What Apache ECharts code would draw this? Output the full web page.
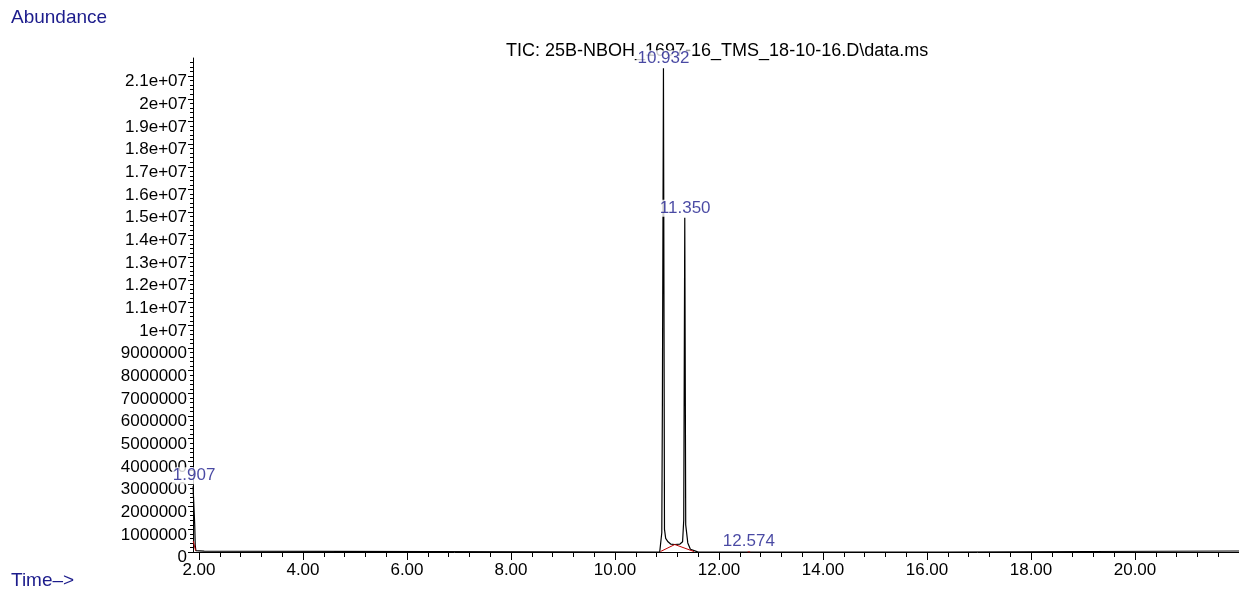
<!DOCTYPE html>
<html>
<head>
<meta charset="utf-8">
<title>TIC chromatogram</title>
<script src="https://cdn.jsdelivr.net/npm/echarts@6/dist/echarts.min.js"></script>
<style>
  html, body { margin: 0; padding: 0; background: #fff; }
  #main { width: 1239px; height: 593px; }
</style>
</head>
<body>
<div id="main"></div>
<script>
'use strict';
// retention time (min) and abundance of the TIC trace
var traceTime = [
  1.886, 1.895, 1.907, 1.918, 1.928, 1.940, 2.100, 2.130,
  10.860, 10.875, 10.900, 10.912, 10.932, 10.952, 10.975, 11.020, 11.070, 11.150, 11.250, 11.300,
  11.322, 11.342, 11.360, 11.400, 11.450, 11.550, 11.600,
  12.550, 12.574, 12.600,
  16.300, 16.320, 22.000
];
var traceAbund = [
  2900000, 2950000, 2950000, 1200000, 300000, 60000, 40000, 0,
  0, 50000, 850000, 6800000, 21350000, 1000000, 600000, 450000, 350000, 330000, 350000, 450000,
  1400000, 14750000, 1200000, 400000, 120000, 40000, 0,
  0, 40000, 0,
  0, 45000, 45000
];
// integration baselines (red), null breaks the segments
var baseTime  = [1.890, 1.935, null, 10.875, 11.150, 11.520, null, 12.550, 12.600];
var baseAbund = [480000, 60000, null, 20000, 330000, 20000, null, 0, 0];
// labelled peaks
var peakTime  = [1.907, 10.932, 11.350, 12.574];
var peakAbund = [2950000, 21350000, 14750000, 40000];
var peakText  = ['1.907', '10.932', '11.350', '12.574'];
// axis ticks
var xMajor = [2, 4, 6, 8, 10, 12, 14, 16, 18, 20];
var yMajor = [];
for (var i = 0; i <= 21; i++) yMajor.push(i * 1000000);
var xMinor = [];
for (var j = 0; j < xMajor.length; j++) {
  for (var k = 1; k < 5; k++) xMinor.push(xMajor[j] + k * 0.4);
}

var font = '"Liberation Sans", Arial, sans-serif';
var blue = '#1c1c8c';

function pairs(xs, ys) {
  return xs.map(function (x, n) { return x === null ? null : [x, ys[n]]; });
}

var chart = echarts.init(document.getElementById('main'));
chart.setOption({
  animation: false,
  title: {
    text: 'TIC: 25B-NBOH_1697-16_TMS_18-10-16.D\\data.ms',
    left: 501, top: 37,
    textStyle: { fontFamily: font, fontSize: 18, fontWeight: 'normal', color: '#000' }
  },
  graphic: [
    { type: 'text', left: 11, top: 8,
      style: { text: 'Abundance', fontFamily: font, fontSize: 19, fill: blue } },
    { type: 'text', left: 11, top: 571,
      style: { text: 'Time\u2013>', fontFamily: font, fontSize: 19, fill: blue } }
  ],
  grid: { left: 193, right: 0, top: 58, bottom: 41 },
  xAxis: [{
    type: 'value', min: 1.885, max: 22.0,
    splitLine: { show: false },
    axisLine: { lineStyle: { color: '#000', width: 1 } },
    axisTick: { show: true, length: 8, customValues: xMajor, lineStyle: { color: '#000' } },
    axisLabel: {
      customValues: xMajor, margin: 10,
      fontFamily: font, fontSize: 17, color: '#000',
      formatter: function (v) { return v.toFixed(2); }
    }
  }, {
    type: 'value', min: 1.885, max: 22.0, position: 'bottom',
    splitLine: { show: false },
    axisLine: { show: false },
    axisTick: { show: true, length: 5, customValues: xMinor, lineStyle: { color: '#000' } },
    axisLabel: { show: false }
  }],
  yAxis: {
    type: 'value', min: 0, max: 21800000, interval: 1000000,
    splitLine: { show: false },
    axisLine: { show: true, lineStyle: { color: '#000', width: 1 } },
    axisTick: { show: true, length: 5, customValues: yMajor, lineStyle: { color: '#000' } },
    minorTick: { show: true, splitNumber: 5, length: 3, lineStyle: { color: '#000' } },
    axisLabel: {
      customValues: yMajor, margin: 6, verticalAlign: 'top', lineHeight: 11,
      fontFamily: font, fontSize: 17, color: '#000',
      formatter: function (v) {
        if (v >= 10000000) return (Math.round(v / 1000000) / 10) + 'e+07';
        return String(v);
      }
    }
  },
  series: [{
    type: 'line', xAxisIndex: 0,
    data: pairs(traceTime, traceAbund),
    showSymbol: false, symbol: 'none',
    lineStyle: { color: '#000', width: 1.2 }
  }, {
    type: 'line', xAxisIndex: 0,
    data: pairs(baseTime, baseAbund),
    connectNulls: false, showSymbol: false, symbol: 'none',
    lineStyle: { color: '#c00000', width: 1 }
  }, {
    type: 'scatter', xAxisIndex: 0, z: 10,
    data: pairs(peakTime, peakAbund),
    symbolSize: 0,
    label: {
      show: true, position: 'top', distance: 1,
      fontFamily: font, fontSize: 17, color: blue,
      backgroundColor: '#fff', padding: [0, 1, 0, 1],
      formatter: function (p) { return peakText[p.dataIndex]; }
    }
  }]
});
</script>
</body>
</html>
